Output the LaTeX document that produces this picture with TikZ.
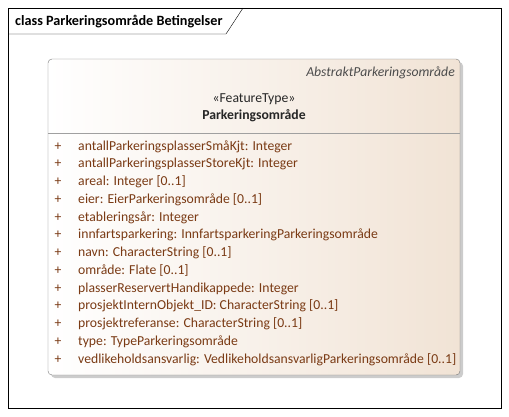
\documentclass[tikz,border=0pt]{standalone}
\usepackage{fontspec}
\setmainfont{Carlito}
\usepackage{tikz}

\definecolor{attrbrun}{RGB}{122,58,20}
\definecolor{rammegraa}{RGB}{120,120,120}
\definecolor{lysbeige}{RGB}{241,227,213}

\tikzset{
  attr/.style={anchor=base west,inner sep=0pt,text=attrbrun,font=\fontsize{13.7}{15}\selectfont},
  pluss/.style={anchor=base,inner sep=0pt,text=attrbrun,font=\fontsize{13.7}{15}\selectfont},
  hode/.style={inner sep=0pt,font=\fontsize{13.7}{15}\selectfont}
}

\begin{document}
\begin{tikzpicture}[x=1pt,y=-1pt]
\useasboundingbox (0,0) rectangle (509,416);
% ramme
\draw[black] (8,8) rectangle (501,408);
\draw[black] (8,34) -- (226,34) -- (243,8);
\node[anchor=base west,inner sep=0pt,font=\fontsize{14.2}{16}\selectfont\bfseries] (tittel) at (15,25) {class Parkeringsområde Betingelser};
% klasse
\fill[gray!40,rounded corners=4pt] (51,62) rectangle (463,378);
\shade[left color=white,right color=lysbeige,rounded corners=4pt] (48,59) rectangle (460,375);
\draw[rammegraa,rounded corners=4pt] (48,59) rectangle (460,375);
\draw[rammegraa!70] (48,133) -- (460,133);
\node[hode,anchor=base east,text=black!70,font=\fontsize{13.7}{15}\selectfont\itshape] (abstrakt) at (455,76) {AbstraktParkeringsområde};
\node[hode,anchor=base,text=black!85] (stereotyp) at (254,102) {«FeatureType»};
\node[hode,anchor=base,text=black!85,font=\fontsize{13.7}{15}\selectfont\bfseries] (klassenavn) at (254,119) {Parkeringsområde};
% attributter
\foreach \tekst [count=\i] in {
  antallParkeringsplasserSmåKjt: Integer,
  antallParkeringsplasserStoreKjt: Integer,
  areal: Integer [0..1],
  eier: EierParkeringsområde [0..1],
  etableringsår: Integer,
  innfartsparkering: InnfartsparkeringParkeringsområde,
  navn: CharacterString [0..1],
  område: Flate [0..1],
  plasserReservertHandikappede: Integer,
  prosjektInternObjekt\_ID: CharacterString [0..1],
  prosjektreferanse: CharacterString [0..1],
  type: TypeParkeringsområde,
  vedlikeholdsansvarlig: VedlikeholdsansvarligParkeringsområde [0..1]}
{
  \node[pluss] (p\i) at (58,150+17.75*\i-17.75) {+};
  \node[attr] (a\i) at (78,150+17.75*\i-17.75) {\tekst};
}
\end{tikzpicture}
\end{document}
